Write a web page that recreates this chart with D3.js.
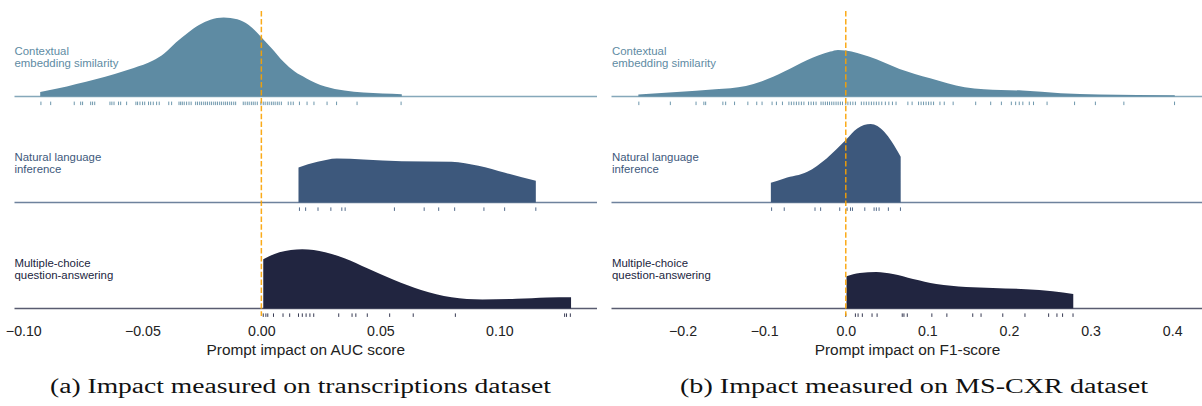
<!DOCTYPE html>
<html><head><meta charset="utf-8">
<script src="https://cdn.jsdelivr.net/npm/d3@7"></script>
<style>body{margin:0;background:#fff}svg{display:block}</style>
</head><body><svg id="chart" width="1202" height="406"></svg>
<script>
// ---------- DATA ----------
const categories = ["Contextual embedding similarity", "Natural language inference", "Multiple-choice question-answering"];
const categoryLines = [["Contextual", "embedding similarity"], ["Natural language", "inference"], ["Multiple-choice", "question-answering"]];

const aucTicks = [-0.10, -0.05, 0.00, 0.05, 0.10];
const f1Ticks = [-0.2, -0.1, 0.0, 0.1, 0.2, 0.3, 0.4];

// (a) transcriptions dataset, AUC impact: density curves (x, density)
const aucCesX = [-0.0929, -0.0857, -0.0777, -0.0696, -0.0616, -0.0536, -0.0455, -0.0407, -0.0359, -0.0311, -0.0262, -0.0214, -0.0158, -0.0101, -0.0053, 0.0, 0.0043, 0.0092, 0.0140, 0.0188, 0.0268, 0.0349, 0.0429, 0.0510, 0.0590];
const aucCesDensity = [1.17, 2.0, 3.17, 4.35, 5.67, 7.17, 9.0, 10.85, 13.5, 15.85, 17.9, 19.2, 19.75, 19.35, 17.9, 14.85, 12.1, 8.75, 6.25, 4.6, 2.5, 1.5, 1.0, 0.75, 0.6];
const aucNliX = [0.0156, 0.0236, 0.0317, 0.0429, 0.0590, 0.0799, 0.0912, 0.1024, 0.1153];
const aucNliDensity = [8.75, 10.15, 11.0, 10.75, 10.3, 10.15, 9.15, 7.4, 5.4];
const aucMcqX = [0.0008, 0.0076, 0.0172, 0.0268, 0.0349, 0.0445, 0.0558, 0.0671, 0.0799, 0.0928, 0.1072, 0.1201, 0.1301];
const aucMcqDensity = [12.3, 14.05, 14.8, 14.05, 12.55, 10.05, 7.1, 4.6, 2.8, 2.25, 2.4, 2.75, 2.8];

// (a) rug values
const aucCesRug = [-0.0926, -0.0885, -0.0786, -0.0759, -0.0751, -0.0717, -0.0709, -0.0700, -0.0636, -0.0628, -0.0619, -0.0600, -0.0591, -0.0566, -0.0527, -0.0520, -0.0510, -0.0499, -0.0490, -0.0474, -0.0465, -0.0454, -0.0440, -0.0429, -0.0389, -0.0377, -0.0346, -0.0339, -0.0332, -0.0324, -0.0314, -0.0304, -0.0295, -0.0276, -0.0268, -0.0259, -0.0251, -0.0242, -0.0234, -0.0226, -0.0217, -0.0209, -0.0200, -0.0192, -0.0184, -0.0175, -0.0167, -0.0158, -0.0150, -0.0142, -0.0133, -0.0125, -0.0116, -0.0108, -0.0076, -0.0068, -0.0059, -0.0051, -0.0042, -0.0034, -0.0026, -0.0017, -0.0002, 0.0008, 0.0016, 0.0025, 0.0033, 0.0042, 0.0050, 0.0058, 0.0067, 0.0075, 0.0084, 0.0113, 0.0124, 0.0134, 0.0160, 0.0192, 0.0221, 0.0276, 0.0316, 0.0402, 0.0587];
const aucNliRug = [0.0160, 0.0186, 0.0238, 0.0292, 0.0338, 0.0352, 0.0559, 0.0684, 0.0745, 0.0812, 0.0935, 0.1022, 0.1153];
const aucMcqRug = [0.0008, 0.0019, 0.0027, 0.0051, 0.0091, 0.0119, 0.0156, 0.0172, 0.0188, 0.0204, 0.0220, 0.0325, 0.0381, 0.0397, 0.0445, 0.0539, 0.0638, 0.0815, 0.1274, 0.1282, 0.1298];

// (b) MS-CXR dataset, F1 impact: density curves
const f1CesX = [-0.2542, -0.2071, -0.1600, -0.1224, -0.1036, -0.0754, -0.0471, -0.0189, -0.0096, 0.0, 0.0282, 0.0659, 0.1034, 0.1458, 0.1694, 0.2164, 0.2635, 0.3105, 0.4032];
const f1CesDensity = [0.2, 0.47, 0.74, 1.07, 1.5, 2.5, 3.67, 4.5, 4.67, 4.6, 4.0, 2.77, 1.84, 0.94, 0.74, 0.6, 0.34, 0.2, 0.14];
const f1NliX = [-0.0918, -0.0754, -0.0471, -0.0235, 0.0, 0.0141, 0.0305, 0.0471, 0.0564, 0.0673];
const f1NliDensity = [1.96, 2.4, 3.06, 4.4, 6.23, 7.4, 7.83, 7.06, 6.06, 4.56];
const f1McqX = [0.0009, 0.0172, 0.0375, 0.0578, 0.0824, 0.1109, 0.1475, 0.1801, 0.2208, 0.2535, 0.2788];
const f1McqDensity = [3.22, 3.55, 3.65, 3.45, 2.95, 2.45, 2.15, 2.05, 1.92, 1.72, 1.45];

// (b) rug values
const f1CesRug = [-0.2536, -0.2150, -0.1835, -0.1739, -0.1717, -0.1506, -0.1472, -0.1363, -0.1200, -0.1091, -0.1026, -0.0903, -0.0850, -0.0776, -0.0697, -0.0667, -0.0636, -0.0605, -0.0575, -0.0544, -0.0513, -0.0456, -0.0425, -0.0395, -0.0364, -0.0303, -0.0277, -0.0250, -0.0224, -0.0199, -0.0172, -0.0146, -0.0119, -0.0093, -0.0066, -0.0040, -0.0001, 0.0026, 0.0056, 0.0087, 0.0118, 0.0191, 0.0222, 0.0252, 0.0283, 0.0314, 0.0344, 0.0375, 0.0406, 0.0441, 0.0485, 0.0528, 0.0572, 0.0616, 0.0761, 0.0813, 0.0892, 0.0923, 0.0953, 0.0984, 0.1015, 0.1045, 0.1076, 0.1154, 0.1207, 0.1316, 0.1592, 0.1776, 0.1907, 0.2029, 0.2082, 0.2126, 0.2170, 0.2249, 0.2301, 0.2467, 0.2804, 0.3059, 0.3408, 0.4029];
const f1NliRug = [-0.0909, -0.0754, -0.0377, -0.0308, -0.0074, 0.0016, 0.0058, 0.0082, 0.0233, 0.0347, 0.0375, 0.0408, 0.0522, 0.0670];
const f1McqRug = [0.0000, 0.0118, 0.0151, 0.0203, 0.0322, 0.0384, 0.0692, 0.0713, 0.0754, 0.1055, 0.1239, 0.1556, 0.1658, 0.1924, 0.2196, 0.2486, 0.2588, 0.2657, 0.2785];

const xLabels = ["Prompt impact on AUC score", "Prompt impact on F1-score"];
const captions = ["(a) Impact measured on transcriptions dataset", "(b) Impact measured on MS-CXR dataset"];

// ---------- LAYOUT ----------
const svg = d3.select("#chart");
const colors = ["#5e8ba3", "#3d587c", "#212540"];
const rowBase = [96.6, 202.4, 308.4];
const rowPx = 80;
const sans = "'Liberation Sans', Arial, sans-serif";

const panels = [
  { range: [14.5, 597], domain: [-0.1037, 0.1410], ticks: aucTicks, fmt: d3.format(".2f"), dmax: 20,
    xs: [aucCesX, aucNliX, aucMcqX], ds: [aucCesDensity, aucNliDensity, aucMcqDensity],
    rugs: [aucCesRug, aucNliRug, aucMcqRug], labelX: 14.5, capW: 501 },
  { range: [611.5, 1203.5], domain: [-0.2871, 0.4384], ticks: f1Ticks, fmt: d3.format(".1f"), dmax: 8,
    xs: [f1CesX, f1NliX, f1McqX], ds: [f1CesDensity, f1NliDensity, f1McqDensity],
    rugs: [f1CesRug, f1NliRug, f1McqRug], labelX: 612, capW: 468 }
];

panels.forEach((p, pi) => {
  const g = svg.append("g");
  const x = d3.scaleLinear().domain(p.domain).range(p.range);
  const h = d3.scaleLinear().domain([0, p.dmax]).range([0, rowPx]);

  categories.forEach((cat, ri) => {
    const base = rowBase[ri];
    const col = colors[ri];
    const pts = p.xs[ri].map((v, i) => [v, p.ds[ri][i]]);
    // baseline
    g.append("line").attr("x1", p.range[0]).attr("x2", p.range[1])
      .attr("y1", base).attr("y2", base)
      .attr("stroke", col).attr("stroke-opacity", 0.75).attr("stroke-width", 1.5);
    // density
    const area = d3.area().curve(d3.curveMonotoneX)
      .x(d => x(d[0])).y0(base).y1(d => base - h(d[1]));
    g.append("path").datum(pts).attr("d", area).attr("fill", col);
    // rug
    g.append("g").selectAll("line").data(p.rugs[ri]).join("line")
      .attr("x1", d => x(d)).attr("x2", d => x(d))
      .attr("y1", base + 5).attr("y2", base + 8.5)
      .attr("stroke", col).attr("stroke-width", 0.9);
    // label
    const t = g.append("text").attr("font-family", sans).attr("font-size", 11.4).attr("fill", col);
    categoryLines[ri].forEach((ln, li) => {
      t.append("tspan").attr("x", p.labelX).attr("y", base - 41.2 + li * 11.6).text(ln);
    });
  });

  // zero reference line
  g.append("line").attr("x1", x(0)).attr("x2", x(0)).attr("y1", 11).attr("y2", 316)
    .attr("stroke", "#fba200").attr("stroke-opacity", 0.9).attr("stroke-width", 1.5)
    .attr("stroke-dasharray", "5.5,2.4");

  // x axis
  const ax = g.append("g").attr("transform", `translate(0,${rowBase[2]})`)
    .call(d3.axisBottom(x).tickValues(p.ticks).tickFormat(p.fmt).tickSize(0).tickPadding(18));
  ax.select(".domain").remove();
  ax.selectAll("text").attr("font-family", sans).attr("font-size", 14.2).attr("fill", "#222");

  const cx = (p.range[0] + p.range[1]) / 2;
  g.append("text").attr("x", cx).attr("y", 355).attr("text-anchor", "middle")
    .attr("font-family", sans).attr("font-size", 15.4).attr("fill", "#222").text(xLabels[pi]);

  const capCx = pi === 0 ? 300.5 : 914;
  g.append("text").attr("x", capCx).attr("y", 393).attr("text-anchor", "middle")
    .attr("font-family", "'Liberation Serif', 'Times New Roman', serif").attr("font-size", 20.5)
    .attr("fill", "#111").attr("textLength", p.capW).attr("lengthAdjust", "spacingAndGlyphs")
    .text(captions[pi]);
});
</script></body></html>
